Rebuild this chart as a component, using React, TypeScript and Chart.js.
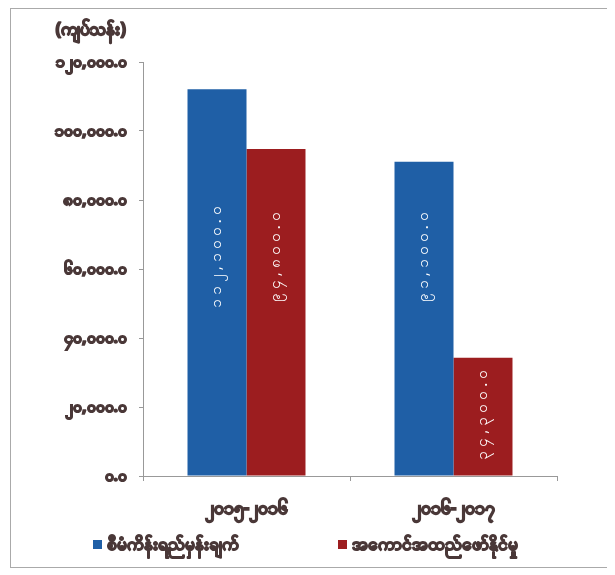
import { useEffect, useRef } from 'react';
import { Chart, registerables } from 'chart.js';

Chart.register(...registerables);

const categories = ['၂၀၁၅-၂၀၁၆', '၂၀၁၆-၂၀၁၇'];
const seriesNames = ['စီမံကိန်းရည်မှန်းချက်', 'အကောင်အထည်ဖော်နိုင်မှု'];
const plannedValues = [112100.0, 91100.0];
const actualValues = [94800.0, 34300.0];
const yTickLabels = ['၀.၀', '၂၀,၀၀၀.၀', '၄၀,၀၀၀.၀', '၆၀,၀၀၀.၀', '၈၀,၀၀၀.၀', '၁၀၀,၀၀၀.၀', '၁၂၀,၀၀၀.၀'];
const unitLabel = '(ကျပ်သန်း)';

const BLUE = '#1f5fa6';
const RED = '#9c1d1f';
const TEXT = '#4a3838';
const FONT = "'Noto Sans', 'DejaVu Sans', sans-serif";

const myDigits = '၀၁၂၃၄၅၆၇၈၉';
function toMyanmar(v: number): string {
  const s = v.toLocaleString('en-US', { minimumFractionDigits: 1, maximumFractionDigits: 1 });
  return s.replace(/[0-9]/g, (d) => myDigits[Number(d)]);
}

function boldText(ctx: CanvasRenderingContext2D, text: string, x: number, y: number, w: number) {
  ctx.lineWidth = w;
  ctx.lineJoin = 'round';
  ctx.strokeStyle = ctx.fillStyle as string;
  ctx.strokeText(text, x, y);
  ctx.fillText(text, x, y);
}

const barLabelPlugin = {
  id: 'barLabels',
  afterDatasetsDraw(chart: any) {
    const { ctx } = chart;
    const yScale = chart.scales.y;
    ctx.save();
    ctx.font = `15px ${FONT}`;
    (ctx as any).letterSpacing = '4px';
    ctx.fillStyle = '#ffffff';
    ctx.textAlign = 'center';
    ctx.textBaseline = 'middle';
    chart.data.datasets.forEach((ds: any, di: number) => {
      const meta = chart.getDatasetMeta(di);
      meta.data.forEach((el: any, i: number) => {
        const text = toMyanmar(ds.data[i]);
        const len = ctx.measureText(text).width;
        const cy = Math.max(yScale.getPixelForValue(64000), el.y + 8 + len / 2);
        ctx.save();
        ctx.translate(el.x, cy);
        ctx.rotate(-Math.PI / 2);
        ctx.fillText(text, 0, 0);
        ctx.restore();
      });
    });
    ctx.restore();
  },
};

const unitPlugin = {
  id: 'unitLabel',
  afterDraw(chart: any) {
    const { ctx } = chart;
    const yScale = chart.scales.y;
    ctx.save();
    ctx.font = `bold 17px ${FONT}`;
    ctx.fillStyle = TEXT;
    ctx.textAlign = 'right';
    ctx.textBaseline = 'middle';
    boldText(ctx, unitLabel, yScale.right - 17, 21, 1.6);
    ctx.restore();
  },
};

const legendPlugin = {
  id: 'customLegend',
  afterDraw(chart: any) {
    const { ctx } = chart;
    const starts = [82, 327];
    const y = 536;
    ctx.save();
    ctx.font = `bold 17px ${FONT}`;
    ctx.textAlign = 'left';
    ctx.textBaseline = 'middle';
    chart.data.datasets.forEach((ds: any, i: number) => {
      const x = starts[i];
      ctx.fillStyle = ds.backgroundColor;
      ctx.fillRect(x, y - 5, 9, 9);
      ctx.fillStyle = TEXT;
      boldText(ctx, ds.label, x + 14, y, 1.5);
    });
    ctx.restore();
  },
};

export default function App() {
  const ref = useRef<HTMLCanvasElement | null>(null);
  useEffect(() => {
    if (!ref.current) return;
    const chart = new Chart(ref.current, {
      type: 'bar',
      data: {
        labels: categories,
        datasets: [
          { label: seriesNames[0], data: plannedValues, backgroundColor: BLUE, borderWidth: 0 },
          { label: seriesNames[1], data: actualValues, backgroundColor: RED, borderWidth: 0 },
        ],
      },
      options: {
        animation: false,
        responsive: false,
        maintainAspectRatio: false,
        layout: { padding: { top: 53, right: 52, bottom: 6, left: 0 } },
        datasets: { bar: { barPercentage: 1, categoryPercentage: 0.57 } },
        plugins: {
          legend: { display: false },
          tooltip: { enabled: false },
        },
        scales: {
          x: {
            afterFit: (s: any) => { s.height = 85; },
            grid: { drawOnChartArea: false, drawTicks: true, tickLength: 5, color: '#999', offset: true },
            border: { color: '#999' },
            ticks: {
              color: TEXT,
              padding: 17,
              textStrokeColor: TEXT,
              textStrokeWidth: 1.6,
              font: { family: FONT, size: 18, weight: 'bold' },
            },
          },
          y: {
            min: 0,
            max: 120000,
            afterFit: (s: any) => { s.width = 132; },
            grid: { drawOnChartArea: false, drawTicks: true, tickLength: 4, color: '#999' },
            border: { color: '#999' },
            ticks: {
              stepSize: 20000,
              padding: 12,
              color: TEXT,
              textStrokeColor: TEXT,
              textStrokeWidth: 1.6,
              font: { family: FONT, size: 16, weight: 'bold' },
              callback: (_v: any, i: number) => yTickLabels[i],
            },
          },
        },
      },
      plugins: [barLabelPlugin, unitPlugin, legendPlugin],
    });
    return () => chart.destroy();
  }, []);
  return (
    <div style={{ width: 598, height: 558, border: '1px solid #aaa', marginLeft: 2, background: '#fff' }}>
      <canvas ref={ref} width={598} height={558} style={{ display: 'block' }} />
    </div>
  );
}
